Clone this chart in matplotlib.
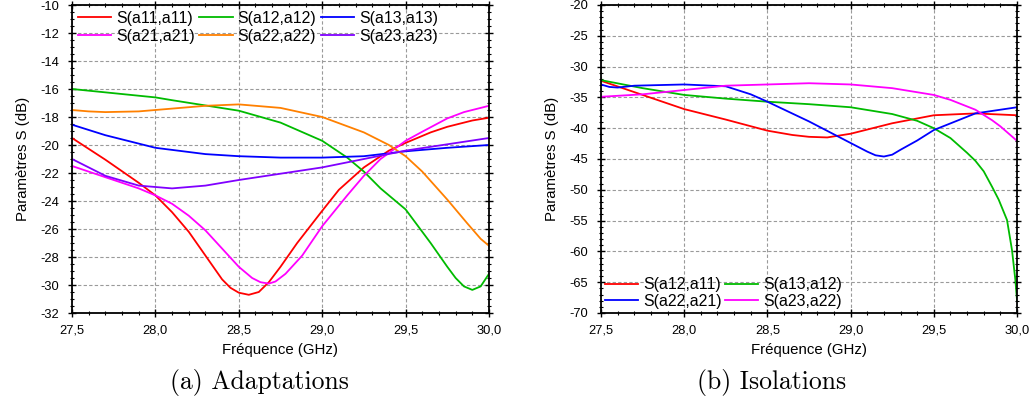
import matplotlib
matplotlib.use("Agg")
import matplotlib.pyplot as plt
from matplotlib.ticker import MultipleLocator, FuncFormatter

plt.rcParams['font.family'] = ['Liberation Sans', 'DejaVu Sans']

# ---------------- data: (a) Adaptations ----------------
f_a11 = [27.5, 27.7, 27.9, 28.0, 28.1, 28.2, 28.3, 28.4, 28.45, 28.5, 28.56, 28.62, 28.68, 28.75,
         28.85, 29.0, 29.1, 29.25, 29.4, 29.5, 29.65, 29.75, 29.9, 30.0]
s_a11 = [-19.5, -21.05, -22.7, -23.6, -24.8, -26.2, -27.9, -29.6, -30.2, -30.55, -30.7, -30.5, -29.8, -28.7,
         -27.0, -24.7, -23.2, -21.6, -20.4, -19.85, -19.1, -18.7, -18.25, -18.05]

f_a12 = [27.5, 28.0, 28.1, 28.5, 28.75, 29.0, 29.15, 29.25, 29.35, 29.5, 29.65, 29.75, 29.8, 29.85, 29.9,
         29.95, 30.0]
s_a12 = [-16.0, -16.6, -16.8, -17.55, -18.4, -19.7, -20.9, -21.9, -23.1, -24.6, -27.0, -28.7, -29.5, -30.1,
         -30.35, -30.1, -29.2]

f_a13 = [27.5, 27.7, 28.0, 28.3, 28.5, 28.75, 29.0, 29.25, 29.5, 29.75, 30.0]
s_a13 = [-18.55, -19.3, -20.2, -20.65, -20.8, -20.9, -20.9, -20.8, -20.45, -20.2, -20.0]

f_a21 = [27.5, 27.7, 27.9, 28.0, 28.1, 28.2, 28.3, 28.4, 28.5, 28.58, 28.63, 28.68, 28.72, 28.78, 28.88,
         29.0, 29.15, 29.25, 29.35, 29.5, 29.6, 29.75, 29.85, 30.0]
s_a21 = [-21.5, -22.3, -23.1, -23.6, -24.2, -25.05, -26.1, -27.4, -28.7, -29.5, -29.8, -29.9, -29.75, -29.2, -27.9,
         -25.8, -23.6, -22.2, -21.0, -19.7, -19.05, -18.1, -17.65, -17.2]

f_a22 = [27.5, 27.6, 27.7, 27.9, 28.1, 28.3, 28.5, 28.75, 29.0, 29.25, 29.4, 29.5, 29.6, 29.75, 29.87, 29.95, 30.0]
s_a22 = [-17.5, -17.6, -17.65, -17.6, -17.4, -17.2, -17.1, -17.35, -18.0, -19.1, -20.0, -20.8, -21.9, -23.9,
         -25.6, -26.7, -27.2]

f_a23 = [27.5, 27.7, 27.9, 28.1, 28.3, 28.5, 28.75, 29.0, 29.25, 29.5, 30.0]
s_a23 = [-21.0, -22.2, -22.9, -23.1, -22.9, -22.5, -22.05, -21.6, -21.0, -20.4, -19.5]

# ---------------- data: (b) Isolations ----------------
f_b_a12a11 = [27.5, 27.75, 28.0, 28.25, 28.5, 28.65, 28.75, 28.86, 29.0, 29.25, 29.5, 29.75, 30.0]
s_b_a12a11 = [-32.3, -34.6, -36.9, -38.6, -40.4, -41.1, -41.4, -41.5, -40.9, -39.2, -37.9, -37.6, -37.9]

f_b_a13a12 = [27.5, 27.75, 28.0, 28.25, 28.5, 28.75, 29.0, 29.25, 29.4, 29.5, 29.6, 29.7, 29.75, 29.8,
              29.85, 29.89, 29.94, 29.97, 29.99, 30.0]
s_b_a13a12 = [-32.2, -33.5, -34.6, -35.2, -35.7, -36.1, -36.6, -37.7, -38.8, -40.0, -41.6, -44.0, -45.3, -47.0,
              -49.5, -51.6, -54.9, -59.8, -64.6, -67.9]

f_b_a22a21 = [27.5, 27.55, 27.6, 27.7, 28.0, 28.25, 28.4, 28.5, 28.75, 28.9, 29.0, 29.1, 29.15, 29.2, 29.25,
              29.3, 29.4, 29.5, 29.75, 30.0]
s_b_a22a21 = [-32.9, -33.3, -33.4, -33.1, -32.9, -33.2, -34.5, -35.7, -38.9, -41.0, -42.4, -43.8, -44.4, -44.6,
              -44.3, -43.5, -42.0, -40.3, -37.6, -36.6]

f_b_a23a22 = [27.5, 27.75, 28.0, 28.25, 28.5, 28.75, 29.0, 29.25, 29.5, 29.6, 29.75, 29.85, 29.9, 30.0]
s_b_a23a22 = [-34.9, -34.5, -33.8, -33.1, -32.9, -32.7, -32.9, -33.5, -34.6, -35.4, -37.0, -38.7, -39.7, -42.05]

labels_a = ['S(a11,a11)', 'S(a12,a12)', 'S(a13,a13)', 'S(a21,a21)', 'S(a22,a22)', 'S(a23,a23)']
labels_b = ['S(a12,a11)', 'S(a13,a12)', 'S(a22,a21)', 'S(a23,a22)']
x_ticks = [27.5, 28.0, 28.5, 29.0, 29.5, 30.0]

RED, GREEN, BLUE, MAG, ORANGE, PURPLE = '#ff0000', '#00bb00', '#0000ff', '#ff00ff', '#ff8000', '#8000ff'

fig = plt.figure(figsize=(10.30, 4.07), dpi=100)
W, H = 1030, 407
axA = fig.add_axes([72 / W, 1 - 313 / H, (489 - 72) / W, (313 - 5) / H])
axB = fig.add_axes([601 / W, 1 - 313 / H, (1017 - 601) / W, (313 - 5) / H])

lw = 1.3
hA = {}
hA[0], = axA.plot(f_a11, s_a11, color=RED, lw=lw, label=labels_a[0])
hA[1], = axA.plot(f_a12, s_a12, color=GREEN, lw=lw, label=labels_a[1])
hA[2], = axA.plot(f_a13, s_a13, color=BLUE, lw=lw, label=labels_a[2])
hA[3], = axA.plot(f_a21, s_a21, color=MAG, lw=lw, label=labels_a[3])
hA[4], = axA.plot(f_a22, s_a22, color=ORANGE, lw=lw, label=labels_a[4])
hA[5], = axA.plot(f_a23, s_a23, color=PURPLE, lw=lw, label=labels_a[5])

hB = {}
hB[0], = axB.plot(f_b_a12a11, s_b_a12a11, color=RED, lw=lw, label=labels_b[0])
hB[1], = axB.plot(f_b_a13a12, s_b_a13a12, color=GREEN, lw=lw, label=labels_b[1])
hB[2], = axB.plot(f_b_a22a21, s_b_a22a21, color=BLUE, lw=lw, label=labels_b[2])
hB[3], = axB.plot(f_b_a23a22, s_b_a23a22, color=MAG, lw=lw, label=labels_b[3])

xfmt = FuncFormatter(lambda v, p: f"{v:.1f}".replace('.', ','))
yfmt = FuncFormatter(lambda v, p: f"{v:.0f}")

for ax, ylim, ymaj, ymin in [(axA, (-32, -10), 2, 0.5), (axB, (-70, -20), 5, 1)]:
    ax.set_xlim(27.5, 30.0)
    ax.set_ylim(*ylim)
    ax.set_xticks(x_ticks)
    ax.xaxis.set_minor_locator(MultipleLocator(0.1))
    ax.yaxis.set_major_locator(MultipleLocator(ymaj))
    ax.yaxis.set_minor_locator(MultipleLocator(ymin))
    ax.xaxis.set_major_formatter(xfmt)
    ax.yaxis.set_major_formatter(yfmt)
    ax.tick_params(which='major', direction='inout', length=6, width=1.0,
                   top=True, right=True, labelsize=9.3)
    ax.tick_params(axis='x', which='major', pad=5)
    ax.tick_params(axis='y', which='major', pad=6)
    ax.tick_params(which='minor', direction='inout', length=3.5, width=0.8,
                   top=True, right=True)
    ax.grid(True, which='major', linestyle=(0, (3, 2)), color='#9a9a9a', lw=0.8)
    for s in ax.spines.values():
        s.set_linewidth(1.3)
    ax.set_xlabel('Fréquence (GHz)', fontsize=10.8, labelpad=5)
    ax.set_ylabel('Paramètres S (dB)', fontsize=10.8, labelpad=8)

orderA = [0, 3, 1, 4, 2, 5]
axA.legend([hA[i] for i in orderA], [labels_a[i] for i in orderA],
           loc='upper left', ncol=3, frameon=False, fontsize=11.4,
           handlelength=2.1, handletextpad=0.32, columnspacing=0.3,
           labelspacing=0.2, borderpad=0.2, borderaxespad=0.15)
orderB = [0, 2, 1, 3]
axB.legend([hB[i] for i in orderB], [labels_b[i] for i in orderB],
           loc='lower left', ncol=2, frameon=False, fontsize=11.4,
           handlelength=2.1, handletextpad=0.32, columnspacing=0.2,
           labelspacing=0.1, borderpad=0.2, borderaxespad=0.05)

fig.text(259 / W, 1 - 383 / H, '(a) Adaptations', family='cmr10', fontsize=18.5,
         ha='center', va='center')
fig.text(772 / W, 1 - 383 / H, '(b) Isolations', family='cmr10', fontsize=18.5,
         ha='center', va='center')

fig.savefig('out.png', dpi=100)
